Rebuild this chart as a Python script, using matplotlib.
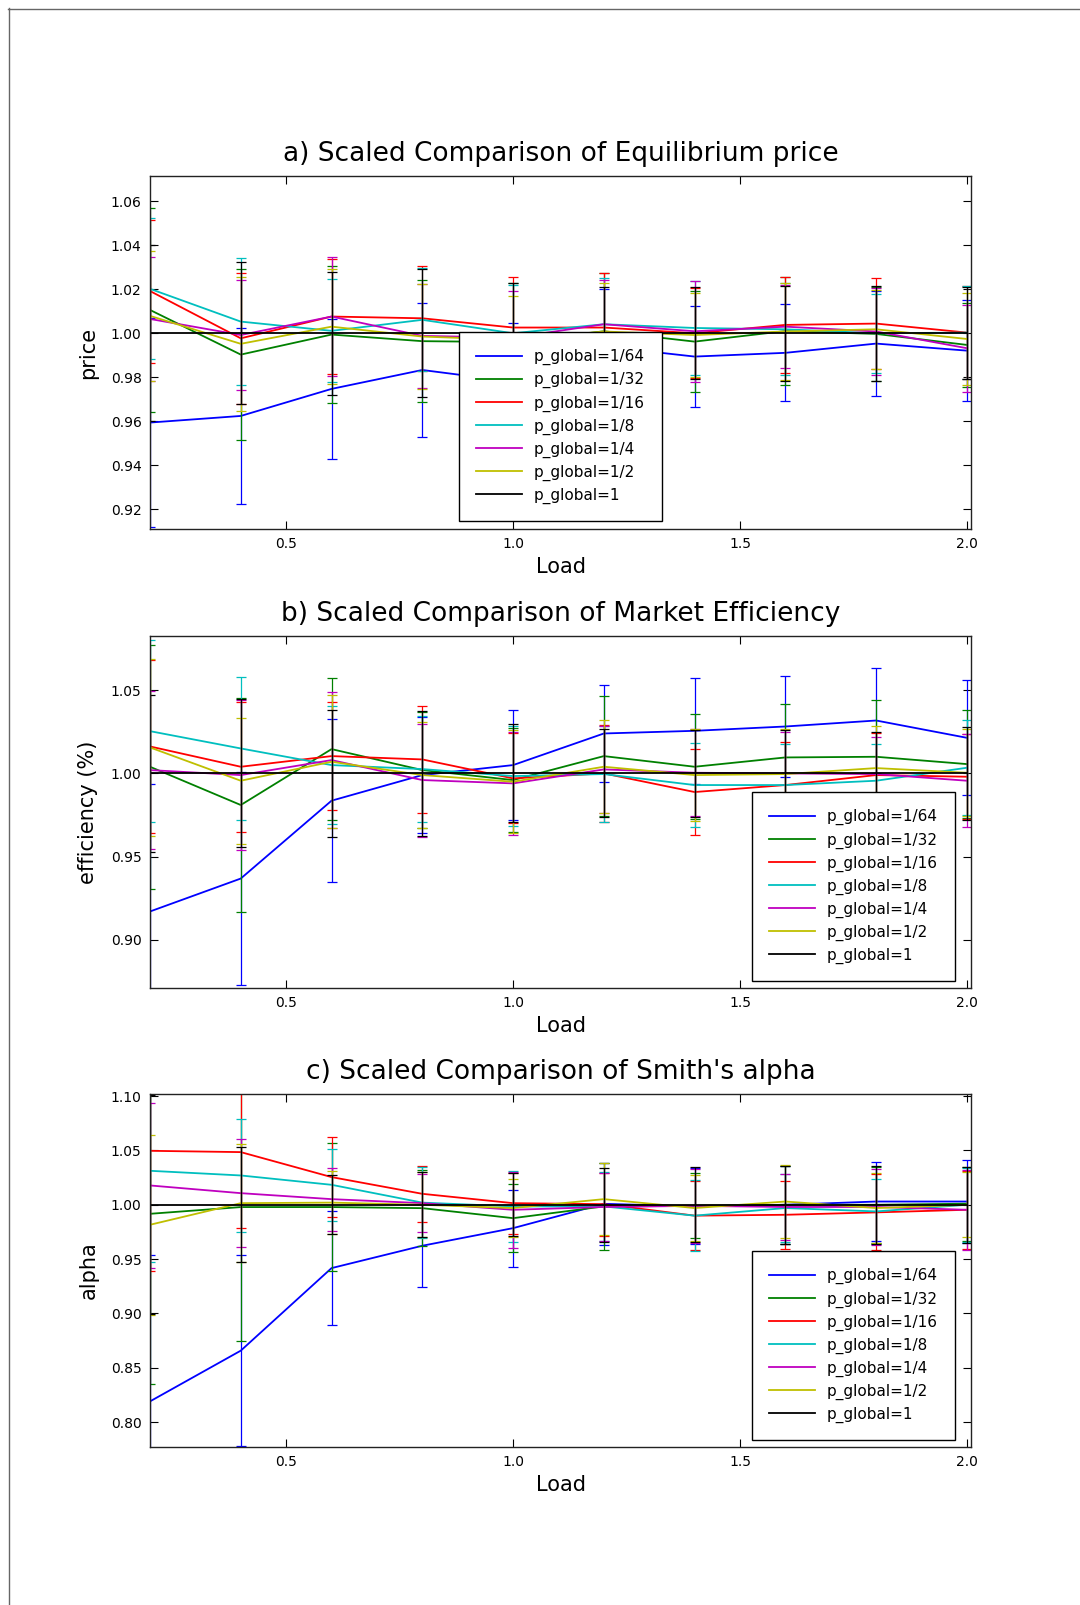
import matplotlib
matplotlib.use("Agg")
import matplotlib.pyplot as plt
from matplotlib.lines import Line2D
from matplotlib.ticker import FormatStrFormatter

plt.rcParams['font.family'] = ['DejaVu Sans']

load = [0.2, 0.4, 0.6, 0.8, 1.0, 1.2, 1.4, 1.6, 1.8, 2.0]
labels = ["p_global=1/64", "p_global=1/32", "p_global=1/16", "p_global=1/8",
          "p_global=1/4", "p_global=1/2", "p_global=1"]
colors = ["b", "g", "r", "c", "m", "y", "k"]

# ---- a) price ----
price_64 = [0.9594, 0.9624, 0.9747, 0.9833, 0.978, 0.994, 0.9894, 0.9911, 0.9953, 0.9921]
price_32 = [1.0106, 0.9903, 0.9994, 0.9964, 0.996, 1.0009, 0.9962, 1.001, 0.9997, 0.9947]
price_16 = [1.0192, 0.9977, 1.0076, 1.0068, 1.0026, 1.0026, 1.000, 1.0038, 1.0044, 1.0003]
price_8 = [1.0202, 1.0053, 1.0011, 1.0061, 1.000, 1.0041, 1.0024, 1.0018, 1.000, 1.0003]
price_4 = [1.0065, 0.9992, 1.0076, 0.9988, 0.998, 1.0041, 1.0009, 1.003, 1.0008, 0.9932]
price_2 = [1.0079, 0.9952, 1.003, 0.9985, 0.997, 1.0008, 0.9992, 1.0008, 1.0018, 0.9974]
price_1 = [1.0, 1.0, 1.0, 1.0, 1.0, 1.0, 1.0, 1.0, 1.0, 1.0]
price_err_64 = [0.0476, 0.040, 0.032, 0.0305, 0.0265, 0.026, 0.023, 0.022, 0.024, 0.023]
price_err_32 = [0.0465, 0.039, 0.031, 0.0276, 0.027, 0.0264, 0.023, 0.0245, 0.0215, 0.019]
price_err_16 = [0.0325, 0.0297, 0.026, 0.024, 0.023, 0.025, 0.0205, 0.0217, 0.0205, 0.021]
price_err_8 = [0.032, 0.029, 0.0234, 0.0234, 0.022, 0.021, 0.0214, 0.021, 0.018, 0.021]
price_err_4 = [0.028, 0.025, 0.027, 0.0236, 0.021, 0.020, 0.023, 0.019, 0.020, 0.0197]
price_err_2 = [0.0295, 0.0305, 0.026, 0.024, 0.020, 0.022, 0.019, 0.022, 0.018, 0.021]
price_err_1 = [0.040, 0.0323, 0.028, 0.029, 0.023, 0.021, 0.021, 0.0215, 0.0215, 0.021]

# ---- b) efficiency ----
eff_64 = [0.917, 0.9368, 0.9836, 0.999, 1.005, 1.024, 1.0256, 1.0282, 1.0318, 1.0214]
eff_32 = [1.004, 0.981, 1.0146, 1.002, 0.996, 1.0104, 1.004, 1.0096, 1.010, 1.0056]
eff_16 = [1.0162, 1.004, 1.0104, 1.0084, 0.997, 1.000, 0.9888, 0.993, 0.999, 0.998]
eff_8 = [1.0254, 1.015, 1.005, 1.0026, 0.9984, 0.9996, 0.993, 0.993, 0.9956, 1.0034]
eff_4 = [1.002, 0.999, 1.008, 0.996, 0.994, 1.0024, 1.0004, 1.000, 0.9996, 0.9956]
eff_2 = [1.0156, 0.9956, 1.007, 0.999, 0.995, 1.004, 0.999, 0.9996, 1.0032, 1.0004]
eff_1 = [1.0, 1.0, 1.0, 1.0, 1.0, 1.0, 1.0, 1.0, 1.0, 1.0]
eff_err_64 = [0.0766, 0.0638, 0.049, 0.035, 0.033, 0.029, 0.032, 0.0306, 0.0316, 0.0345]
eff_err_32 = [0.0733, 0.0646, 0.0425, 0.035, 0.031, 0.036, 0.0316, 0.0324, 0.0344, 0.0324]
eff_err_16 = [0.0518, 0.039, 0.0325, 0.032, 0.027, 0.029, 0.026, 0.026, 0.025, 0.0254]
eff_err_8 = [0.0545, 0.043, 0.0354, 0.032, 0.030, 0.029, 0.0255, 0.0246, 0.022, 0.0285]
eff_err_4 = [0.0475, 0.045, 0.041, 0.034, 0.031, 0.026, 0.026, 0.025, 0.022, 0.028]
eff_err_2 = [0.053, 0.038, 0.040, 0.032, 0.031, 0.028, 0.0276, 0.027, 0.025, 0.026]
eff_err_1 = [0.047, 0.0445, 0.038, 0.0374, 0.0295, 0.0265, 0.026, 0.026, 0.025, 0.028]

# ---- c) Smith's alpha ----
alpha_64 = [0.819, 0.8657, 0.9417, 0.9623, 0.9785, 1.0009, 0.9985, 1.000, 1.003, 1.003]
alpha_32 = [0.9917, 0.9979, 0.9979, 0.9969, 0.9877, 0.9985, 0.999, 1.000, 1.000, 1.001]
alpha_16 = [1.0497, 1.0485, 1.0255, 1.0101, 1.0015, 1.0006, 0.990, 0.9908, 0.993, 0.9954]
alpha_8 = [1.0313, 1.027, 1.0184, 1.002, 0.9985, 0.9985, 0.990, 0.997, 0.9939, 1.000]
alpha_4 = [1.0178, 1.0107, 1.0052, 1.0015, 0.9954, 0.998, 0.999, 0.998, 0.998, 0.9954]
alpha_2 = [0.9816, 1.0015, 1.002, 1.000, 0.997, 1.0052, 0.997, 1.003, 0.997, 1.000]
alpha_1 = [1.0, 1.0, 1.0, 1.0, 1.0, 1.0, 1.0, 1.0, 1.0, 1.0]
alpha_err_64 = [0.135, 0.088, 0.0525, 0.038, 0.0355, 0.038, 0.035, 0.036, 0.036, 0.038]
alpha_err_32 = [0.157, 0.1236, 0.059, 0.035, 0.031, 0.040, 0.030, 0.036, 0.035, 0.034]
alpha_err_16 = [0.111, 0.07, 0.037, 0.026, 0.028, 0.029, 0.032, 0.0315, 0.035, 0.036]
alpha_err_8 = [0.084, 0.0523, 0.033, 0.033, 0.033, 0.032, 0.033, 0.0315, 0.030, 0.034]
alpha_err_4 = [0.0757, 0.050, 0.029, 0.027, 0.035, 0.031, 0.034, 0.030, 0.035, 0.037]
alpha_err_2 = [0.083, 0.0545, 0.029, 0.030, 0.027, 0.033, 0.030, 0.034, 0.032, 0.030]
alpha_err_1 = [0.101, 0.053, 0.027, 0.030, 0.029, 0.034, 0.0345, 0.036, 0.036, 0.035]

price_vals = [price_64, price_32, price_16, price_8, price_4, price_2, price_1]
price_errs = [price_err_64, price_err_32, price_err_16, price_err_8, price_err_4, price_err_2, price_err_1]
eff_vals = [eff_64, eff_32, eff_16, eff_8, eff_4, eff_2, eff_1]
eff_errs = [eff_err_64, eff_err_32, eff_err_16, eff_err_8, eff_err_4, eff_err_2, eff_err_1]
alpha_vals = [alpha_64, alpha_32, alpha_16, alpha_8, alpha_4, alpha_2, alpha_1]
alpha_errs = [alpha_err_64, alpha_err_32, alpha_err_16, alpha_err_8, alpha_err_4, alpha_err_2, alpha_err_1]

price_ticks = [0.92, 0.94, 0.96, 0.98, 1.00, 1.02, 1.04, 1.06]
eff_ticks = [0.90, 0.95, 1.00, 1.05]
alpha_ticks = [0.80, 0.85, 0.90, 0.95, 1.00, 1.05, 1.10]
x_ticks = [0.5, 1.0, 1.5, 2.0]

W, H = 1080, 1605
fig = plt.figure(figsize=(W / 100, H / 100), dpi=100)

# page frame (top and left edges)
fig.add_artist(Line2D([8 / W, 1.0], [1 - 8.5 / H, 1 - 8.5 / H], transform=fig.transFigure,
                      color="#666666", lw=1.0))
fig.add_artist(Line2D([8.5 / W, 8.5 / W], [0.0, 1 - 8 / H], transform=fig.transFigure,
                      color="#666666", lw=1.0))

panels = [
    dict(top=176, bottom=529, vals=price_vals, errs=price_errs, ylim=(0.911, 1.0715),
         yticks=price_ticks, ylabel="price", title="a) Scaled Comparison of Equilibrium price",
         legend=dict(loc="lower center", bbox_to_anchor=(0.5, 0.0227))),
    dict(top=636, bottom=988, vals=eff_vals, errs=eff_errs, ylim=(0.871, 1.0826),
         yticks=eff_ticks, ylabel="efficiency (%)", title="b) Scaled Comparison of Market Efficiency",
         legend=dict(loc="lower right", bbox_to_anchor=(0.9805, 0.0198))),
    dict(top=1094, bottom=1447, vals=alpha_vals, errs=alpha_errs, ylim=(0.777, 1.102),
         yticks=alpha_ticks, ylabel="alpha", title="c) Scaled Comparison of Smith's alpha",
         legend=dict(loc="lower right", bbox_to_anchor=(0.9805, 0.0198))),
]

left_px, right_px = 150, 971
for p in panels:
    ax = fig.add_axes([left_px / W, 1 - p["bottom"] / H,
                       (right_px - left_px) / W, (p["bottom"] - p["top"]) / H])
    for vals, errs, col, lab in zip(p["vals"], p["errs"], colors, labels):
        ax.errorbar(load, vals, yerr=errs, fmt="none", ecolor=col, elinewidth=0.9,
                    capsize=3.3, capthick=0.9)
        ax.plot(load, vals, color=col, lw=1.3, label=lab)
    ax.set_xlim(0.2, 2.009)
    ax.set_ylim(*p["ylim"])
    ax.set_xticks(x_ticks)
    ax.set_yticks(p["yticks"])
    ax.xaxis.set_major_formatter(FormatStrFormatter("%.1f"))
    ax.yaxis.set_major_formatter(FormatStrFormatter("%.2f"))
    ax.tick_params(direction="in", length=6, width=0.8, top=True, right=True,
                   labelsize=10, pad=6)
    for s in ax.spines.values():
        s.set_linewidth(1.0)
        s.set_color("#222222")
    ax.set_xlabel("Load", fontsize=15, labelpad=4)
    ax.set_ylabel(p["ylabel"], fontsize=15)
    ax.yaxis.set_label_coords(-0.063, 0.5)
    ax.set_title(p["title"], fontsize=19, pad=11)
    leg = ax.legend(fontsize=11, handlelength=3.0, handletextpad=0.8, borderpad=1.12,
                    labelspacing=0.45, fancybox=False, framealpha=1.0, borderaxespad=0.0,
                    edgecolor="black", **p["legend"])
    leg.get_frame().set_linewidth(1.0)

fig.savefig("out.png", dpi=100)
